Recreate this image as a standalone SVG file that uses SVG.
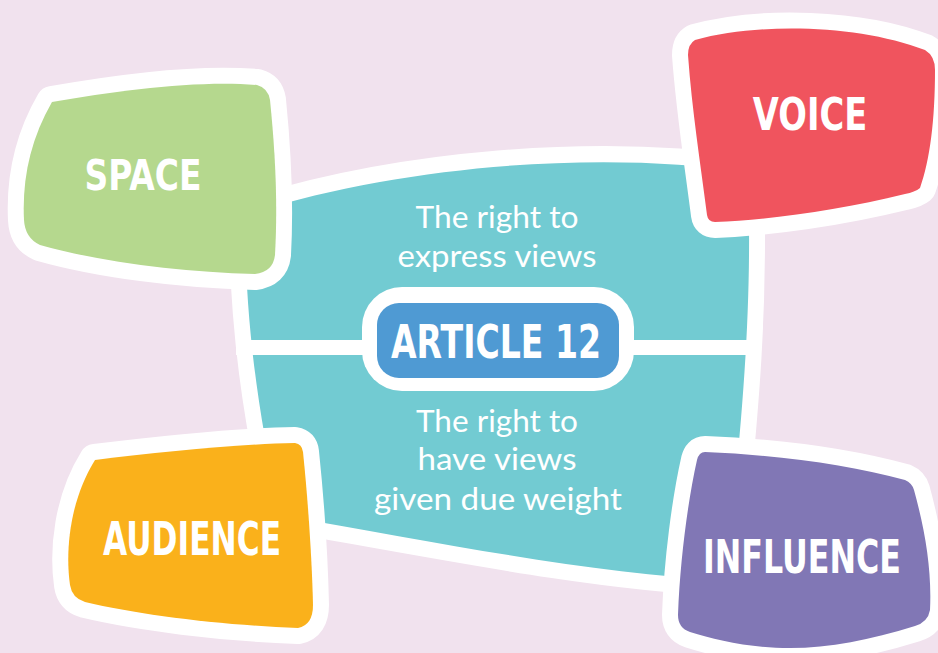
<svg xmlns="http://www.w3.org/2000/svg" width="938" height="653" viewBox="0 0 938 653">
<style>
.blob{stroke:#fff;stroke-width:32;stroke-linejoin:round;paint-order:stroke}
.title{font-family:"DejaVu Sans","Liberation Sans",sans-serif;font-weight:bold;fill:#fff;text-anchor:middle}
.body{font-family:"Lato","Open Sans",sans-serif;fill:#fff;text-anchor:middle;font-size:31px}
</style>
<rect width="938" height="653" fill="#f1e2ee"/>
<g id="center">
<path class="blob" fill="#72cbd2" d="M 245 215 C 400 165, 600 150, 748 172 C 752 300, 745 400, 725 580 C 600 575, 450 545, 280 515 C 260 420, 245 330, 245 215 Z"/>
</g>
<g id="connectors">
<rect x="236" y="340" width="522" height="15" fill="#fff"/>
</g>
<g id="center-text">
<text class="body" x="497" y="228" textLength="163" lengthAdjust="spacingAndGlyphs">The right to</text>
<text class="body" x="497" y="267" textLength="199" lengthAdjust="spacingAndGlyphs">express views</text>
<text class="body" x="497" y="432" textLength="162" lengthAdjust="spacingAndGlyphs">The right to</text>
<text class="body" x="497" y="470" textLength="159" lengthAdjust="spacingAndGlyphs">have views</text>
<text class="body" x="498" y="510" textLength="248" lengthAdjust="spacingAndGlyphs">given due weight</text>
</g>
<g id="article12">
<rect x="362" y="287" width="272" height="104" rx="40" fill="#fff"/>
<rect x="377" y="303" width="242" height="75" rx="22" fill="#4f9ad3"/>
<text class="title" transform="translate(496,358) scale(0.72,1)" font-size="46">ARTICLE 12</text>
</g>
<g id="space">
<path class="blob" fill="#b5d88e" d="M 52 102 C 120 90, 200 80, 257 85 Q 268 88, 270 100 C 275 150, 278 200, 275 255 Q 273 272, 255 274 C 180 272, 100 262, 40 245 Q 25 238, 24 220 C 22 180, 30 140, 52 102 Z"/>
<text class="title" transform="translate(143,190) scale(0.766,1)" font-size="43">SPACE</text>
</g>
<g id="voice">
<path class="blob" fill="#f0545e" d="M 695 40 C 760 22, 860 25, 925 50 Q 935 56, 935 70 C 935 120, 930 160, 920 188 Q 915 192, 905 194 C 840 210, 770 220, 715 222 Q 708 222, 707 215 C 700 160, 692 110, 688 55 Q 688 44, 695 40 Z"/>
<text class="title" transform="translate(810,130) scale(0.766,1)" font-size="44">VOICE</text>
</g>
<g id="audience">
<path class="blob" fill="#fab11b" d="M 95 460 C 160 452, 240 444, 295 443 Q 302 444, 303 452 C 308 500, 312 560, 313 605 Q 313 625, 298 628 C 220 625, 140 615, 85 602 Q 72 598, 70 585 C 65 550, 70 500, 95 460 Z"/>
<text class="title" transform="translate(192,555) scale(0.68,1)" font-size="46">AUDIENCE</text>
</g>
<g id="influence">
<path class="blob" fill="#8177b5" d="M 705 452 C 780 455, 850 465, 905 480 Q 912 483, 914 490 C 925 530, 932 570, 930 610 Q 928 622, 915 626 C 870 640, 830 648, 790 648 C 750 648, 715 640, 690 632 Q 678 628, 678 615 C 680 560, 688 500, 697 460 Q 699 452, 705 452 Z"/>
<text class="title" transform="translate(802,573) scale(0.69,1)" font-size="46">INFLUENCE</text>
</g>
</svg>
